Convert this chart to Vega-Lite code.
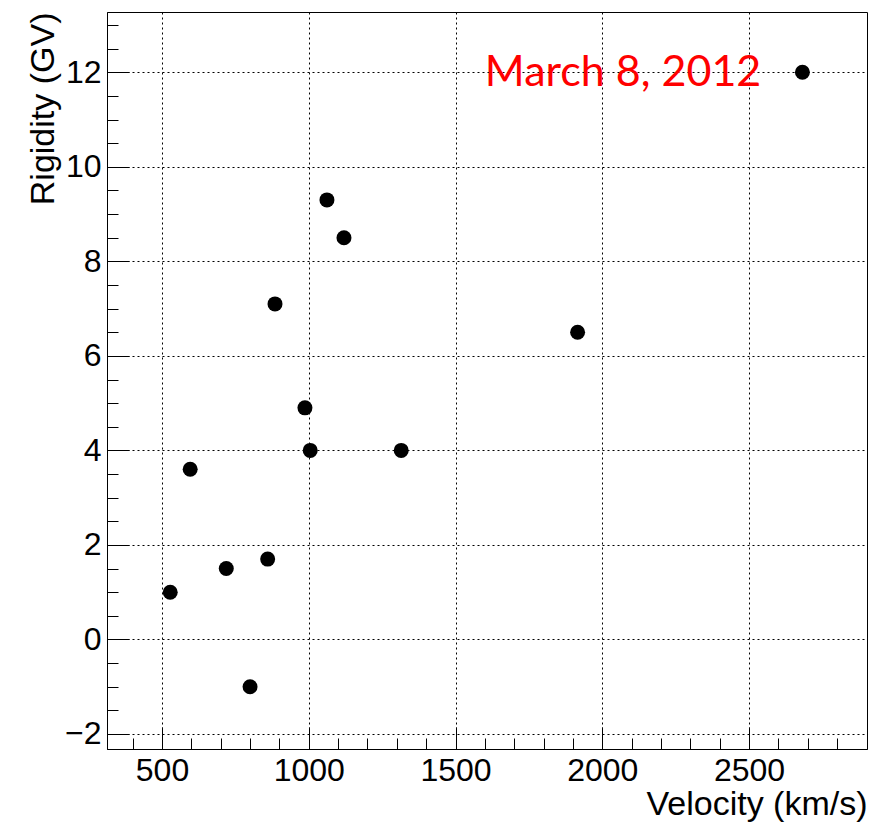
{
  "$schema": "https://vega.github.io/schema/vega-lite/v6.json",
  "width": 760,
  "height": 737,
  "autosize": {"type": "none"},
  "padding": {"left": 107, "top": 12, "right": 13, "bottom": 74},
  "background": "white",
  "config": {
    "view": {"stroke": "black", "strokeWidth": 1},
    "axis": {
      "domainColor": "black",
      "tickColor": "black",
      "labelColor": "black",
      "titleColor": "black",
      "labelFont": "Liberation Sans",
      "titleFont": "Liberation Sans",
      "titleFontWeight": "normal"
    }
  },
  "datasets": {
    "points": [
      {"velocity": 528, "rigidity": 1.0},
      {"velocity": 596, "rigidity": 3.6},
      {"velocity": 719, "rigidity": 1.5},
      {"velocity": 800, "rigidity": -1.0},
      {"velocity": 860, "rigidity": 1.7},
      {"velocity": 885, "rigidity": 7.1},
      {"velocity": 987, "rigidity": 4.9},
      {"velocity": 1005, "rigidity": 4.0},
      {"velocity": 1062, "rigidity": 9.3},
      {"velocity": 1120, "rigidity": 8.5},
      {"velocity": 1315, "rigidity": 4.0},
      {"velocity": 1916, "rigidity": 6.5},
      {"velocity": 2682, "rigidity": 12.0}
    ],
    "label": [
      {"velocity": 1600, "rigidity": 12, "text": "March 8, 2012"}
    ]
  },
  "layer": [
    {
      "data": {"name": "points"},
      "mark": {"type": "circle", "color": "black", "size": 225, "opacity": 1},
      "encoding": {
        "x": {
          "field": "velocity",
          "type": "quantitative",
          "scale": {"domain": [312.6, 2902], "nice": false, "zero": false},
          "axis": {
            "orient": "bottom",
            "values": [500, 1000, 1500, 2000, 2500],
            "format": "d",
            "ticks": true,
            "tickSize": -22,
            "tickWidth": 1,
            "grid": true,
            "gridColor": "black",
            "gridDash": [2, 3],
            "gridWidth": 1,
            "gridOpacity": 1,
            "domain": true,
            "domainWidth": 1,
            "labelFontSize": 32,
            "labelPadding": 28,
            "labelFlush": false,
            "labelOverlap": false,
            "title": "Velocity (km/s)",
            "titleFontSize": 34,
            "titleAnchor": "end",
            "titleBaseline": "alphabetic",
            "titleY": 65
          }
        },
        "y": {
          "field": "rigidity",
          "type": "quantitative",
          "scale": {"domain": [-2.318, 13.276], "nice": false, "zero": false},
          "axis": {
            "orient": "left",
            "values": [-2, 0, 2, 4, 6, 8, 10, 12],
            "format": "d",
            "ticks": true,
            "tickSize": -22,
            "tickWidth": 1,
            "grid": true,
            "gridColor": "black",
            "gridDash": [2, 3],
            "gridWidth": 1,
            "gridOpacity": 1,
            "domain": true,
            "domainWidth": 1,
            "labelFontSize": 32,
            "labelPadding": 28,
            "labelFlush": false,
            "labelOverlap": false,
            "title": "Rigidity (GV)",
            "titleFontSize": 34,
            "titleAnchor": "end",
            "titleBaseline": "alphabetic",
            "titleX": -54
          }
        }
      }
    },
    {
      "data": {"name": "label"},
      "mark": {"type": "text", "font": "Lato", "fontSize": 43, "color": "#ff0000", "align": "left", "baseline": "alphabetic", "dy": 14},
      "encoding": {
        "x": {
          "field": "velocity",
          "type": "quantitative",
          "axis": {
            "orient": "bottom",
            "values": [400, 500, 600, 700, 800, 900, 1000, 1100, 1200, 1300, 1400, 1500, 1600, 1700, 1800, 1900, 2000, 2100, 2200, 2300, 2400, 2500, 2600, 2700, 2800],
            "ticks": true,
            "tickSize": -11,
            "tickWidth": 1,
            "labels": false,
            "grid": false,
            "domain": false,
            "title": null
          }
        },
        "y": {
          "field": "rigidity",
          "type": "quantitative",
          "axis": {
            "orient": "left",
            "values": [-2, -1.5, -1, -0.5, 0, 0.5, 1, 1.5, 2, 2.5, 3, 3.5, 4, 4.5, 5, 5.5, 6, 6.5, 7, 7.5, 8, 8.5, 9, 9.5, 10, 10.5, 11, 11.5, 12, 12.5, 13],
            "ticks": true,
            "tickSize": -11,
            "tickWidth": 1,
            "labels": false,
            "grid": false,
            "domain": false,
            "title": null
          }
        },
        "text": {"field": "text"}
      }
    }
  ],
  "resolve": {"axis": {"x": "independent", "y": "independent"}}
}
